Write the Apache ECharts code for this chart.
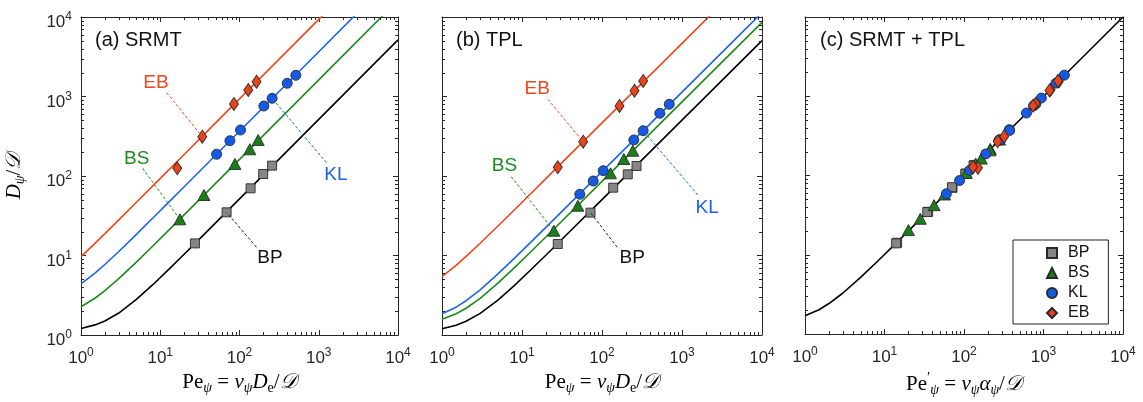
<!DOCTYPE html>
<html><head><meta charset="utf-8">
<script src="https://cdn.jsdelivr.net/npm/echarts@6/dist/echarts.min.js"></script>
<style>html,body{margin:0;padding:0;background:#fff}#c{width:1143px;height:402px}</style>
</head><body><div id="c"></div>
<script>
// ---------------- data ----------------
const curvePe = [1, 1.5, 2, 3, 5, 8, 13, 20, 35, 100, 1000, 10000];
// (a) SRMT model curves
const srmtCurveBP = [1.21, 1.34, 1.50, 1.89, 2.80, 4.26, 6.78, 10.36, 18.06, 51.5, 515, 5150];
const srmtCurveBS = [2.27, 2.90, 3.61, 5.11, 8.25, 13.06, 21.12, 32.44, 56.72, 162, 1620, 16200];
const srmtCurveKL = [4.39, 6.0, 7.71, 11.24, 18.46, 29.38, 47.64, 73.24, 128.1, 366, 3660, 36600];
const srmtCurveEB = [9.66, 14.22, 18.83, 28.1, 46.72, 74.68, 121.3, 186.6, 326.6, 933, 9330, 93300];
// (b) TPL model curves
const tplCurveBP = [1.20, 1.33, 1.49, 1.87, 2.75, 4.18, 6.66, 10.16, 17.71, 50.5, 505, 5050];
const tplCurveBS = [1.58, 1.85, 2.17, 2.89, 4.49, 6.98, 11.22, 17.19, 30.03, 85.7, 857, 8570];
const tplCurveKL = [1.85, 2.24, 2.70, 3.70, 5.86, 9.20, 14.83, 22.75, 39.75, 113.5, 1135, 11350];
const tplCurveEB = [5.42, 7.52, 9.73, 14.25, 23.47, 37.38, 60.64, 93.24, 163.1, 466, 4660, 46600];
// (c) combined master curve
const combCurve = [1.70, 2.03, 2.43, 3.30, 5.19, 8.12, 13.07, 20.05, 35.03, 100, 1000, 10000];

// (a) SRMT data points
const srmtPeBP = [27.4, 68.7, 138, 199, 258];
const srmtDBP  = [14.2, 34.9, 70, 106, 135];
const srmtPeBS = [17.7, 35.6, 87.5, 135, 172];
const srmtDBS  = [28.5, 57.7, 141.6, 217, 284];
const srmtPeKL = [51.4, 75.7, 103, 203, 258, 400, 514];
const srmtDKL  = [187.5, 278, 379, 759, 949, 1466, 1847];
const srmtPeEB = [16.4, 33.9, 85, 129, 164];
const srmtDEB  = [125, 312, 805, 1208, 1535];
// (b) TPL data points
const tplPeBP = [28, 71.8, 138, 210, 270];
const tplDBP  = [13.95, 34.6, 71.3, 105, 133.6];
const tplPeBS = [25, 49.9, 127.7, 187.5, 242.7];
const tplDBS  = [20.5, 42.3, 108, 163.7, 208];
const tplPeKL = [52.8, 77.6, 103.5, 250, 327, 528, 692];
const tplDKL  = [58.9, 86.5, 116.6, 284, 371, 615, 798];
const tplPeEB = [28, 58.2, 165.5, 255, 327];
const tplDEB  = [128.6, 270, 760, 1183, 1567];
// (c) modified Peclet numbers for both data sets
const combPeBP_srmt = [14.4, 35.4, 71.7, 105, 133];
const combPeBP_tpl  = [14, 34.5, 70.5, 104, 132];
const combPeBS_srmt = [28.2, 57, 140, 214, 280];
const combPeBS_tpl  = [20, 42, 107, 165, 212];
const combPeKL_srmt = [188, 275, 372, 750, 940, 1440, 1830];
const combPeKL_tpl  = [60, 88, 118, 290, 375, 610, 800];
const combPeEB_srmt = [150, 320, 800, 1230, 1560];
const combPeEB_tpl  = [130, 265, 740, 1190, 1520];

// annotation labels: [text position], [leader start], leader target index
const srmtAnn = {
  EB: {pos: [8.83, 1493], from: [12.05, 1117], idx: 1},
  BS: {pos: [5.04, 167],  from: [6.0, 125],    idx: 0},
  KL: {pos: [1644, 103],  from: [1254, 147],   idx: 4},
  BP: {pos: [242, 9.5],   from: [164, 12.7],   idx: 1}
};
const tplAnn = {
  EB: {pos: [15.5, 1268], from: [21, 922],     idx: 1},
  BS: {pos: [6.04, 134],  from: [7.33, 98],    idx: 0},
  KL: {pos: [2065, 40.4], from: [1575, 57.7],  idx: 4},
  BP: {pos: [238, 9.5],   from: [155, 12.7],   idx: 1}
};
const tickExp = [0, 1, 2, 3, 4];
const minorMult = [2, 3, 4, 5, 6, 7, 8, 9];
const panelTitles = ['(a) SRMT', '(b) TPL', '(c) SRMT + TPL'];
const groups = ['BP', 'BS', 'KL', 'EB'];

// ---------------- styles ----------------
const FONT = "'Liberation Sans', Arial, Helvetica, sans-serif";
const SERIF = "'Liberation Serif', 'DejaVu Serif', serif";
const AX = '#262626';
const lineColor = {BP: '#000000', BS: '#1E8A1E', KL: '#1F63EC', EB: '#F0461E'};
const markColor = {BP: '#858585', BS: '#1A7E1A', KL: '#1559E6', EB: '#E8431B'};
const symbolOf = {BP: 'rect', BS: 'triangle', KL: 'circle', EB: 'diamond'};
const sizeOf = {BP: 9, BS: [12, 11], KL: 10, EB: [9, 13]};

const grids = [
  {left: 81, top: 17, width: 317, height: 318},
  {left: 442, top: 17, width: 320, height: 318},
  {left: 805, top: 17, width: 318, height: 318}
];

const tickRich = {
  b: {fontSize: 17, lineHeight: 20, verticalAlign: 'bottom', fontFamily: FONT, color: AX},
  s: {fontSize: 12, lineHeight: 11, verticalAlign: 'top', fontFamily: FONT, color: AX}
};
function tickFmt(v) { return '{b|10}{s|' + Math.round(Math.log10(v)) + '}'; }

const nameRich = {
  r:   {fontFamily: SERIF, fontSize: 21, lineHeight: 26, color: '#000'},
  i:   {fontFamily: SERIF, fontSize: 21, lineHeight: 26, fontStyle: 'italic', color: '#000'},
  sb:  {fontFamily: SERIF, fontSize: 14, lineHeight: 14, verticalAlign: 'bottom', fontStyle: 'italic', color: '#000'},
  sbr: {fontFamily: SERIF, fontSize: 14, lineHeight: 14, verticalAlign: 'bottom', color: '#000'},
  sp:  {fontFamily: SERIF, fontSize: 15, lineHeight: 13, verticalAlign: 'top', color: '#000'},
  sc:  {fontFamily: SERIF, fontSize: 21, lineHeight: 26, fontStyle: 'italic', color: '#000'}
};
const xNames = [
  '{r|Pe}{sb|ψ}{r| = }{i|v}{sb|ψ}{i|D}{sbr|e}{r|/}{sc|𝒟}',
  '{r|Pe}{sb|ψ}{r| = }{i|v}{sb|ψ}{i|D}{sbr|e}{r|/}{sc|𝒟}',
  '{r|Pe}{sp|′}{sb|ψ}{r| = }{i|v}{sb|ψ}{i|α}{sb|ψ}{r|/}{sc|𝒟}'
];
const yName = '{i|D}{sb|ψ}{r|/}{sc|𝒟}';

// ---------------- axes ----------------
const xAxes = [], yAxes = [];
grids.forEach((g, i) => {
  const common = {
    type: 'log', gridIndex: i, min: 1, max: 10000, logBase: 10,
    axisLine: {show: true, lineStyle: {color: AX, width: 1}},
    axisTick: {show: true, inside: true, length: 5, lineStyle: {color: AX, width: 1}},
    splitLine: {show: false}, minorTick: {show: false}
  };
  xAxes.push(Object.assign({}, common, {
    position: 'bottom',
    axisLabel: {show: true, margin: 12, formatter: tickFmt, rich: tickRich},
    name: xNames[i], nameLocation: 'middle', nameGap: 33,
    nameTextStyle: {rich: nameRich}
  }));
  xAxes.push(Object.assign({}, common, {position: 'top', axisLabel: {show: false}}));
  yAxes.push(Object.assign({}, common, {
    position: 'left',
    axisLabel: {show: i === 0, margin: 9, formatter: tickFmt, rich: tickRich, padding: [8, 0, 0, 0]},
    name: i === 0 ? yName : '', nameLocation: 'middle', nameGap: 54, nameRotate: 90,
    nameTextStyle: {rich: nameRich}
  }));
  yAxes.push(Object.assign({}, common, {position: 'right', axisLabel: {show: false}}));
});

// ---------------- series ----------------
const series = [];
const minorVals = [];
tickExp.slice(0, 4).forEach(e => minorMult.forEach(m => minorVals.push(m * Math.pow(10, e))));

function minorTicks(g) {
  return {
    type: 'custom', xAxisIndex: 2 * g, yAxisIndex: 2 * g, silent: true, z: 6,
    data: minorVals.map(v => [v, v]),
    renderItem: function (params, api) {
      const v = api.value(0);
      const b = api.coord([v, 1]), t = api.coord([v, 10000]);
      const l = api.coord([1, v]), r = api.coord([10000, v]);
      const st = {stroke: AX, lineWidth: 1};
      const L = 3;
      const bx = Math.round(b[0]) + 0.5, ly = Math.round(l[1]) + 0.5;
      return {type: 'group', children: [
        {type: 'line', shape: {x1: bx, y1: b[1], x2: bx, y2: b[1] - L}, style: st},
        {type: 'line', shape: {x1: bx, y1: t[1], x2: bx, y2: t[1] + L}, style: st},
        {type: 'line', shape: {x1: l[0], y1: ly, x2: l[0] + L, y2: ly}, style: st},
        {type: 'line', shape: {x1: r[0], y1: ly, x2: r[0] - L, y2: ly}, style: st}
      ]};
    }
  };
}

function curveSeries(g, ys, key, ann, pts) {
  const s = {
    type: 'line', name: key + ' fit ' + g, xAxisIndex: 2 * g, yAxisIndex: 2 * g,
    data: curvePe.map((x, k) => [x, ys[k]]),
    showSymbol: false, symbol: 'none', smooth: false, clip: true,
    lineStyle: {color: lineColor[key], width: 1.6}, z: 2, silent: true
  };
  if (ann) {
    const a = ann[key];
    s.markLine = {
      silent: true, symbol: ['none', 'none'],
      lineStyle: {color: lineColor[key] === '#000000' ? '#222' : lineColor[key], width: 1, type: [3, 2]},
      label: {show: false},
      data: [[{coord: a.from}, {coord: [pts[0][a.idx], pts[1][a.idx]]}]]
    };
    s.markPoint = {
      silent: true, symbol: 'circle', symbolSize: 1,
      itemStyle: {color: 'rgba(0,0,0,0)'},
      label: {show: true, position: 'inside', formatter: key, color: lineColor[key] === '#000000' ? '#111' : lineColor[key],
              fontSize: 19, fontFamily: FONT},
      data: [{coord: a.pos}]
    };
  }
  return s;
}

function pointSeries(g, key, xs, ys) {
  return {
    type: 'scatter', name: key, xAxisIndex: 2 * g, yAxisIndex: 2 * g,
    data: xs.map((x, k) => [x, ys[k]]),
    symbol: symbolOf[key], symbolSize: sizeOf[key],
    itemStyle: {color: markColor[key], borderColor: '#2a2a2a', borderWidth: 0.9, opacity: 1},
    z: 4, silent: true
  };
}

const srmtPts = {BP: [srmtPeBP, srmtDBP], BS: [srmtPeBS, srmtDBS], KL: [srmtPeKL, srmtDKL], EB: [srmtPeEB, srmtDEB]};
const tplPts = {BP: [tplPeBP, tplDBP], BS: [tplPeBS, tplDBS], KL: [tplPeKL, tplDKL], EB: [tplPeEB, tplDEB]};
const srmtCurves = {BP: srmtCurveBP, BS: srmtCurveBS, KL: srmtCurveKL, EB: srmtCurveEB};
const tplCurves = {BP: tplCurveBP, BS: tplCurveBS, KL: tplCurveKL, EB: tplCurveEB};
const combPts = {
  BP: [combPeBP_srmt.concat(combPeBP_tpl), srmtDBP.concat(tplDBP)],
  BS: [combPeBS_srmt.concat(combPeBS_tpl), srmtDBS.concat(tplDBS)],
  KL: [combPeKL_srmt.concat(combPeKL_tpl), srmtDKL.concat(tplDKL)],
  EB: [combPeEB_srmt.concat(combPeEB_tpl), srmtDEB.concat(tplDEB)]
};

// panel a
groups.forEach(k => series.push(curveSeries(0, srmtCurves[k], k, srmtAnn, srmtPts[k])));
groups.forEach(k => series.push(pointSeries(0, k, srmtPts[k][0], srmtPts[k][1])));
// panel b
groups.forEach(k => series.push(curveSeries(1, tplCurves[k], k, tplAnn, tplPts[k])));
groups.forEach(k => series.push(pointSeries(1, k, tplPts[k][0], tplPts[k][1])));
// panel c
series.push({
  type: 'line', name: 'master', xAxisIndex: 4, yAxisIndex: 4,
  data: curvePe.map((x, k) => [x, combCurve[k]]), showSymbol: false, symbol: 'none',
  smooth: false, lineStyle: {color: '#000', width: 1.6}, z: 2, silent: true
});
groups.forEach(k => series.push(pointSeries(2, k, combPts[k][0], combPts[k][1])));
[0, 1, 2].forEach(g => series.push(minorTicks(g)));

const titles = panelTitles.map((t, i) => ({
  text: t, left: [95, 456, 820][i], top: 30, padding: 0,
  textStyle: {fontFamily: FONT, fontSize: 20, fontWeight: 'normal', color: '#111'}
}));

const chart = echarts.init(document.getElementById('c'), null, {renderer: 'canvas'});
chart.setOption({
  animation: false,
  backgroundColor: '#fff',
  title: titles,
  grid: grids,
  xAxis: xAxes,
  yAxis: yAxes,
  legend: {
    data: groups, orient: 'vertical', left: 1013, top: 240,
    itemWidth: 10, itemHeight: 10, itemGap: 4,
    padding: [5, 19, 3, 33],
    borderColor: '#222', borderWidth: 1, backgroundColor: '#fff',
    textStyle: {fontFamily: FONT, fontSize: 16, lineHeight: 14, color: '#111', padding: [0, 0, 0, 6]},
    selectedMode: false
  },
  series: series
});
</script>
</body></html>
